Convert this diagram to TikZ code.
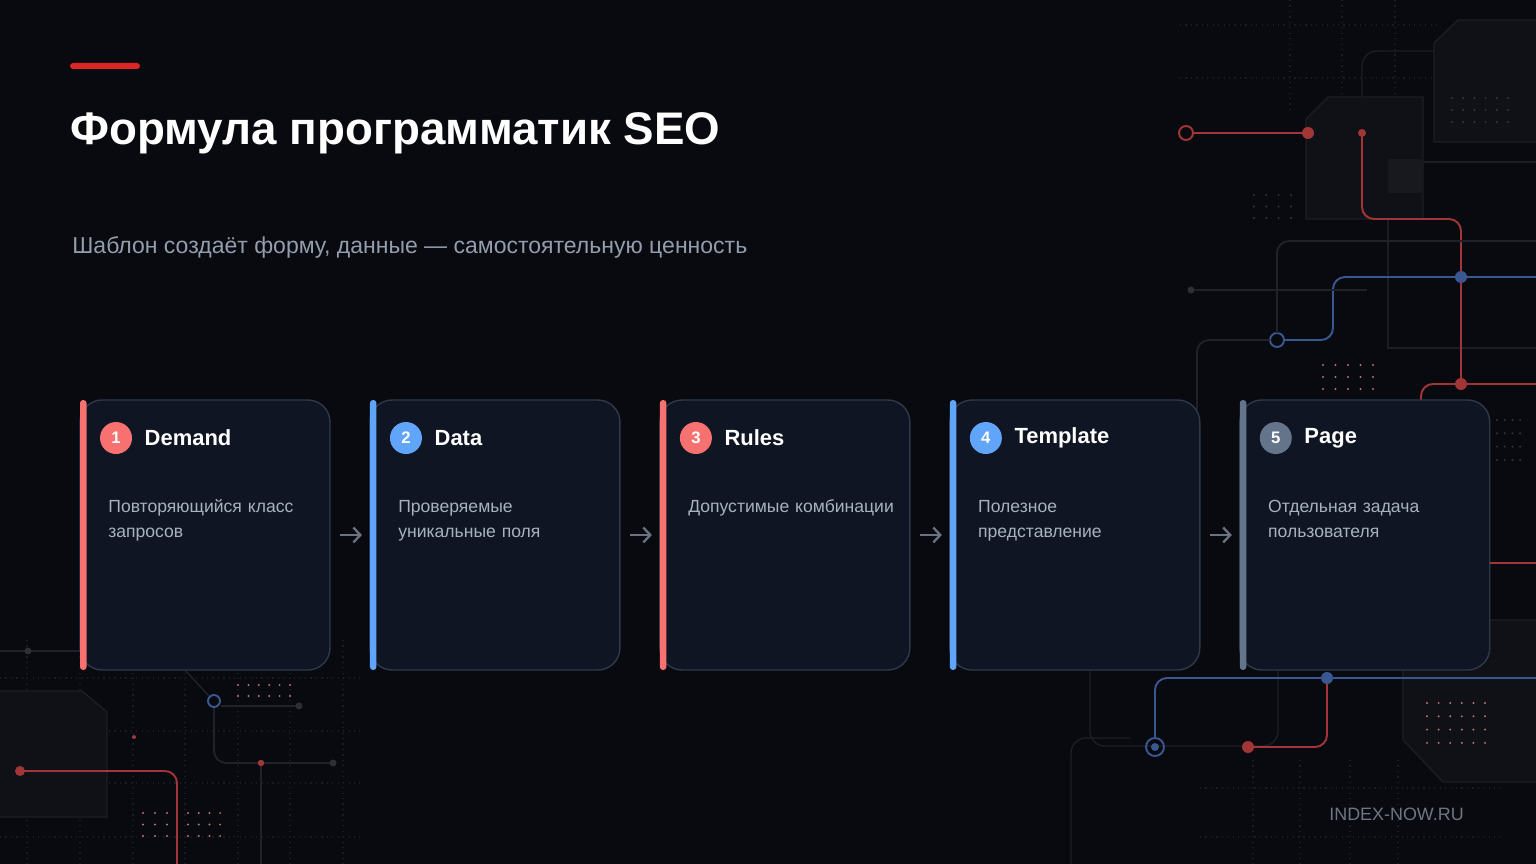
\documentclass[tikz,border=0pt]{standalone}
\usepackage{fontspec}
\setmainfont{Liberation Sans}
\usetikzlibrary{positioning,arrows.meta}

\definecolor{bgdark}{HTML}{090A0F}
\definecolor{cardfill}{HTML}{0F1523}
\definecolor{cardline}{HTML}{2E394B}
\definecolor{accred}{HTML}{F87171}
\definecolor{accblue}{HTML}{60A5FA}
\definecolor{accgray}{HTML}{64748B}
\definecolor{bodytext}{HTML}{A8B1BF}
\definecolor{subtext}{HTML}{939DAE}
\definecolor{arrowgray}{HTML}{6B7383}
\definecolor{footgray}{HTML}{6E7583}
\definecolor{titlered}{HTML}{DC2626}
\definecolor{wirered}{HTML}{A23637}
\definecolor{wireblue}{HTML}{3A5791}
\definecolor{wiregray}{HTML}{1F2229}
\definecolor{dotgray}{HTML}{33363F}
\definecolor{knobgray}{HTML}{2C2F37}
\definecolor{gridgray}{HTML}{1A1D24}
\definecolor{chipfill}{HTML}{101116}
\definecolor{chipline}{HTML}{1C1E25}
\definecolor{chiplight}{HTML}{18191F}

\tikzset{
  card/.style={draw=cardline, line width=0.8pt, fill=cardfill, rounded corners=0.44cm,
    minimum width=5cm, minimum height=5.4cm, inner sep=0, outer sep=0},
  badge/.style={circle, minimum size=0.64cm, inner sep=0, text=white,
    font=\bfseries\fontsize{9.5}{11}\selectfont},
  steptitle/.style={anchor=west, inner sep=0, text=white,
    font=\bfseries\fontsize{12.5}{15}\selectfont},
  stepbody/.style={anchor=base west, inner sep=0, align=left, text width=4.6cm,
    text=bodytext, font=\fontsize{10}{14.7}\selectfont},
  flow/.style={draw=arrowgray, line width=1.3pt, shorten <=0.2cm, shorten >=0.16cm,
    -{Straight Barb[length=4pt,width=8.5pt]}},
  wire/.style={line width=1.1pt, rounded corners=0.24cm},
  griddot/.style={draw=gridgray, line width=0.7pt, dash pattern=on 0.7pt off 2.4pt},
  faint/.style={draw=chipline, line width=0.8pt},
  chip/.style={fill=chipfill, draw=chipline, line width=0.8pt}
}

\begin{document}
\begin{tikzpicture}[x=0.02cm, y=-0.02cm, node distance=0.8cm]
  % backdrop
  \useasboundingbox (0,0) rectangle (1536,864);
  \clip (0,0) rectangle (1536,864);
  \fill[bgdark] (0,0) rectangle (1536,864);

  % dotted grid
  \foreach \gx in {27,80,133,185,238,290,343}
    \draw[griddot] (\gx,640) -- (\gx,864);
  \foreach \gy in {678,731,783,837}
    \draw[griddot] (0,\gy) -- (360,\gy);
  \foreach \gx in {1290,1342,1395}
    \draw[griddot] (\gx,0) -- (\gx,110);
  \foreach \gy in {25,78}
    \draw[griddot] (1180,\gy) -- (1440,\gy);
  \foreach \gx in {1253,1300,1350,1398}
    \draw[griddot] (\gx,760) -- (\gx,864);
  \foreach \gy in {788,837}
    \draw[griddot] (1200,\gy) -- (1500,\gy);

  % chips
  \draw[faint] (1388,162) rectangle (1545,348);
  \draw[faint, rounded corners=0.3cm] (1545,51) -- (1362,51) -- (1362,97);
  \filldraw[chip] (1328,97) -- (1423,97) -- (1423,219) -- (1306,219) -- (1306,119) -- cycle;
  \fill[chiplight] (1388,159) rectangle (1423,193);
  \filldraw[chip] (1458,20) -- (1545,20) -- (1545,142) -- (1434,142) -- (1434,43) -- cycle;
  \filldraw[chip] (-5,691) -- (82,691) -- (107,712) -- (107,817) -- (-5,817) -- cycle;
  \filldraw[chip] (1403,620) -- (1403,740) -- (1443,782) -- (1545,782) -- (1545,620) -- cycle;
  \draw[faint, rounded corners=0.3cm] (1090,600) -- (1090,746) -- (1278,746) -- (1278,600);
  \draw[faint, rounded corners=0.3cm] (1071,870) -- (1071,738) -- (1130,738);

  % dot fields
  \foreach \i in {0,...,5} \foreach \j in {0,1}
    \fill[wirered!70] (238+\i*10.4,685+\j*11) circle[radius=0.022cm];
  \foreach \i in {0,...,2} \foreach \j in {0,...,2}
    \fill[wirered!70] (143+\i*12,813+\j*11.5) circle[radius=0.022cm];
  \foreach \i in {0,...,3} \foreach \j in {0,...,2}
    \fill[wirered!70] (188+\i*10.7,813+\j*11.5) circle[radius=0.022cm];
  \foreach \i in {0,...,4} \foreach \j in {0,...,2}
    \fill[wirered!70] (1323+\i*12.5,365+\j*12) circle[radius=0.022cm];
  \foreach \i in {0,...,5} \foreach \j in {0,...,3}
    \fill[wirered!70] (1427+\i*11.6,703+\j*13.3) circle[radius=0.022cm];
  \foreach \i in {0,...,5} \foreach \j in {0,...,2}
    \fill[dotgray] (1452+\i*11.2,98+\j*12) circle[radius=0.022cm];
  \foreach \i in {0,...,3} \foreach \j in {0,...,2}
    \fill[dotgray] (1254+\i*12.3,195+\j*11.5) circle[radius=0.022cm];
  \foreach \i in {0,...,3} \foreach \j in {0,...,3}
    \fill[dotgray] (1497+\i*7.7,420+\j*13.3) circle[radius=0.022cm];

  % circuit, top right
  \draw[wire, draw=wirered] (1193,133) -- (1308,133);
  \draw[wire, draw=wirered] (1186,133) circle[radius=0.14cm];
  \draw[wire, draw=wirered] (1362,133) -- (1362,219) -- (1461,219) -- (1461,384);
  \draw[wire, draw=wirered] (1545,384) -- (1421,384) -- (1421,410);
  \draw[wire, draw=wireblue] (1545,277) -- (1333,277) -- (1333,340) -- (1284,340);
  \draw[wire, draw=wireblue] (1277,340) circle[radius=0.14cm];
  \draw[wire, draw=wiregray] (1277,333) -- (1277,241) -- (1545,241);
  \draw[wire, draw=wiregray] (1270,340) -- (1197,340) -- (1197,410);
  \draw[line width=0.8pt, draw=wiregray] (1191,290) -- (1367,290);
  \fill[knobgray] (1191,290) circle[radius=0.07cm];
  \fill[wirered] (1308,133) circle[radius=0.12cm];
  \fill[wirered] (1362,133) circle[radius=0.08cm];
  \fill[wireblue] (1461,277) circle[radius=0.12cm];
  \fill[wirered] (1461,384) circle[radius=0.12cm];

  % circuit, bottom right
  \draw[wire, draw=wireblue] (1545,678) -- (1155,678) -- (1155,738);
  \draw[wire, draw=wireblue] (1155,747) circle[radius=0.18cm];
  \fill[wireblue] (1155,747) circle[radius=0.08cm];
  \draw[wire, draw=wirered] (1327,678) -- (1327,747) -- (1248,747);
  \fill[wirered] (1248,747) circle[radius=0.12cm];
  \fill[wireblue] (1327,678) circle[radius=0.12cm];
  \draw[wire, draw=wirered] (1480,563) -- (1545,563);

  % circuit, bottom left
  \draw[wire, draw=wirered] (20,771) -- (177,771) -- (177,870);
  \fill[wirered] (20,771) circle[radius=0.1cm];
  \draw[line width=0.8pt, draw=wiregray] (0,651) -- (90,651);
  \fill[knobgray] (28,651) circle[radius=0.07cm];
  \draw[line width=0.8pt, draw=wiregray] (185,670) -- (209,696);
  \draw[line width=0.8pt, draw=wiregray] (221,706) -- (299,706);
  \fill[knobgray] (299,706) circle[radius=0.07cm];
  \draw[wire, draw=wiregray] (214,708) -- (214,763) -- (333,763);
  \draw[line width=0.8pt, draw=wiregray] (261,763) -- (261,870);
  \fill[knobgray] (333,763) circle[radius=0.07cm];
  \fill[wirered] (261,763) circle[radius=0.065cm];
  \fill[wirered] (134,737) circle[radius=0.04cm];
  \draw[wire, draw=wireblue] (214,701) circle[radius=0.12cm];

  % heading
  \fill[titlered, rounded corners=0.06cm] (70,63) rectangle (140,69);
  \node[anchor=base west, inner sep=0, text=white, font=\bfseries\fontsize{26}{31}\selectfont]
    (title) at (70,145) {Формула программатик SEO};
  \node[anchor=base west, inner sep=0, text=subtext, font=\fontsize{13.1}{16}\selectfont]
    (subtitle) at (72,254) {Шаблон создаёт форму, данные — самостоятельную ценность};

  % steps
  \node[card] (c1) at (205,535) {};
  \node[card, right=of c1] (c2) {};
  \node[card, right=of c2] (c3) {};
  \node[card, right=of c3] (c4) {};
  \node[card, right=of c4] (c5) {};

  \fill[accred, rounded corners=0.06cm] (c1.north west) rectangle ([xshift=0.13cm]c1.south west);
  \fill[accblue, rounded corners=0.06cm] (c2.north west) rectangle ([xshift=0.13cm]c2.south west);
  \fill[accred, rounded corners=0.06cm] (c3.north west) rectangle ([xshift=0.13cm]c3.south west);
  \fill[accblue, rounded corners=0.06cm] (c4.north west) rectangle ([xshift=0.13cm]c4.south west);
  \fill[accgray, rounded corners=0.06cm] (c5.north west) rectangle ([xshift=0.13cm]c5.south west);

  \node[badge, fill=accred] (b1) at ([xshift=0.72cm, yshift=-0.76cm]c1.north west) {1};
  \node[badge, fill=accblue] (b2) at ([xshift=0.72cm, yshift=-0.76cm]c2.north west) {2};
  \node[badge, fill=accred] (b3) at ([xshift=0.72cm, yshift=-0.76cm]c3.north west) {3};
  \node[badge, fill=accblue] (b4) at ([xshift=0.72cm, yshift=-0.76cm]c4.north west) {4};
  \node[badge, fill=accgray] (b5) at ([xshift=0.72cm, yshift=-0.76cm]c5.north west) {5};

  \node[steptitle, right=0.24cm of b1] (t1) {Demand};
  \node[steptitle, right=0.24cm of b2] (t2) {Data};
  \node[steptitle, right=0.24cm of b3] (t3) {Rules};
  \node[steptitle, right=0.24cm of b4] (t4) {Template};
  \node[steptitle, right=0.24cm of b5] (t5) {Page};

  \node[stepbody] (d1) at ([xshift=0.56cm, yshift=-2.24cm]c1.north west) {Повторяющийся класс\\запросов};
  \node[stepbody] (d2) at ([xshift=0.56cm, yshift=-2.24cm]c2.north west) {Проверяемые\\уникальные поля};
  \node[stepbody] (d3) at ([xshift=0.56cm, yshift=-2.24cm]c3.north west) {Допустимые комбинации};
  \node[stepbody] (d4) at ([xshift=0.56cm, yshift=-2.24cm]c4.north west) {Полезное\\представление};
  \node[stepbody] (d5) at ([xshift=0.56cm, yshift=-2.24cm]c5.north west) {Отдельная задача\\пользователя};

  \draw[flow] (c1) -- (c2);
  \draw[flow] (c2) -- (c3);
  \draw[flow] (c3) -- (c4);
  \draw[flow] (c4) -- (c5);

  % footer
  \node[anchor=base west, inner sep=0, text=footgray, font=\fontsize{10.2}{12}\selectfont]
    (site) at (1329,821) {INDEX-NOW.RU};
\end{tikzpicture}
\end{document}
